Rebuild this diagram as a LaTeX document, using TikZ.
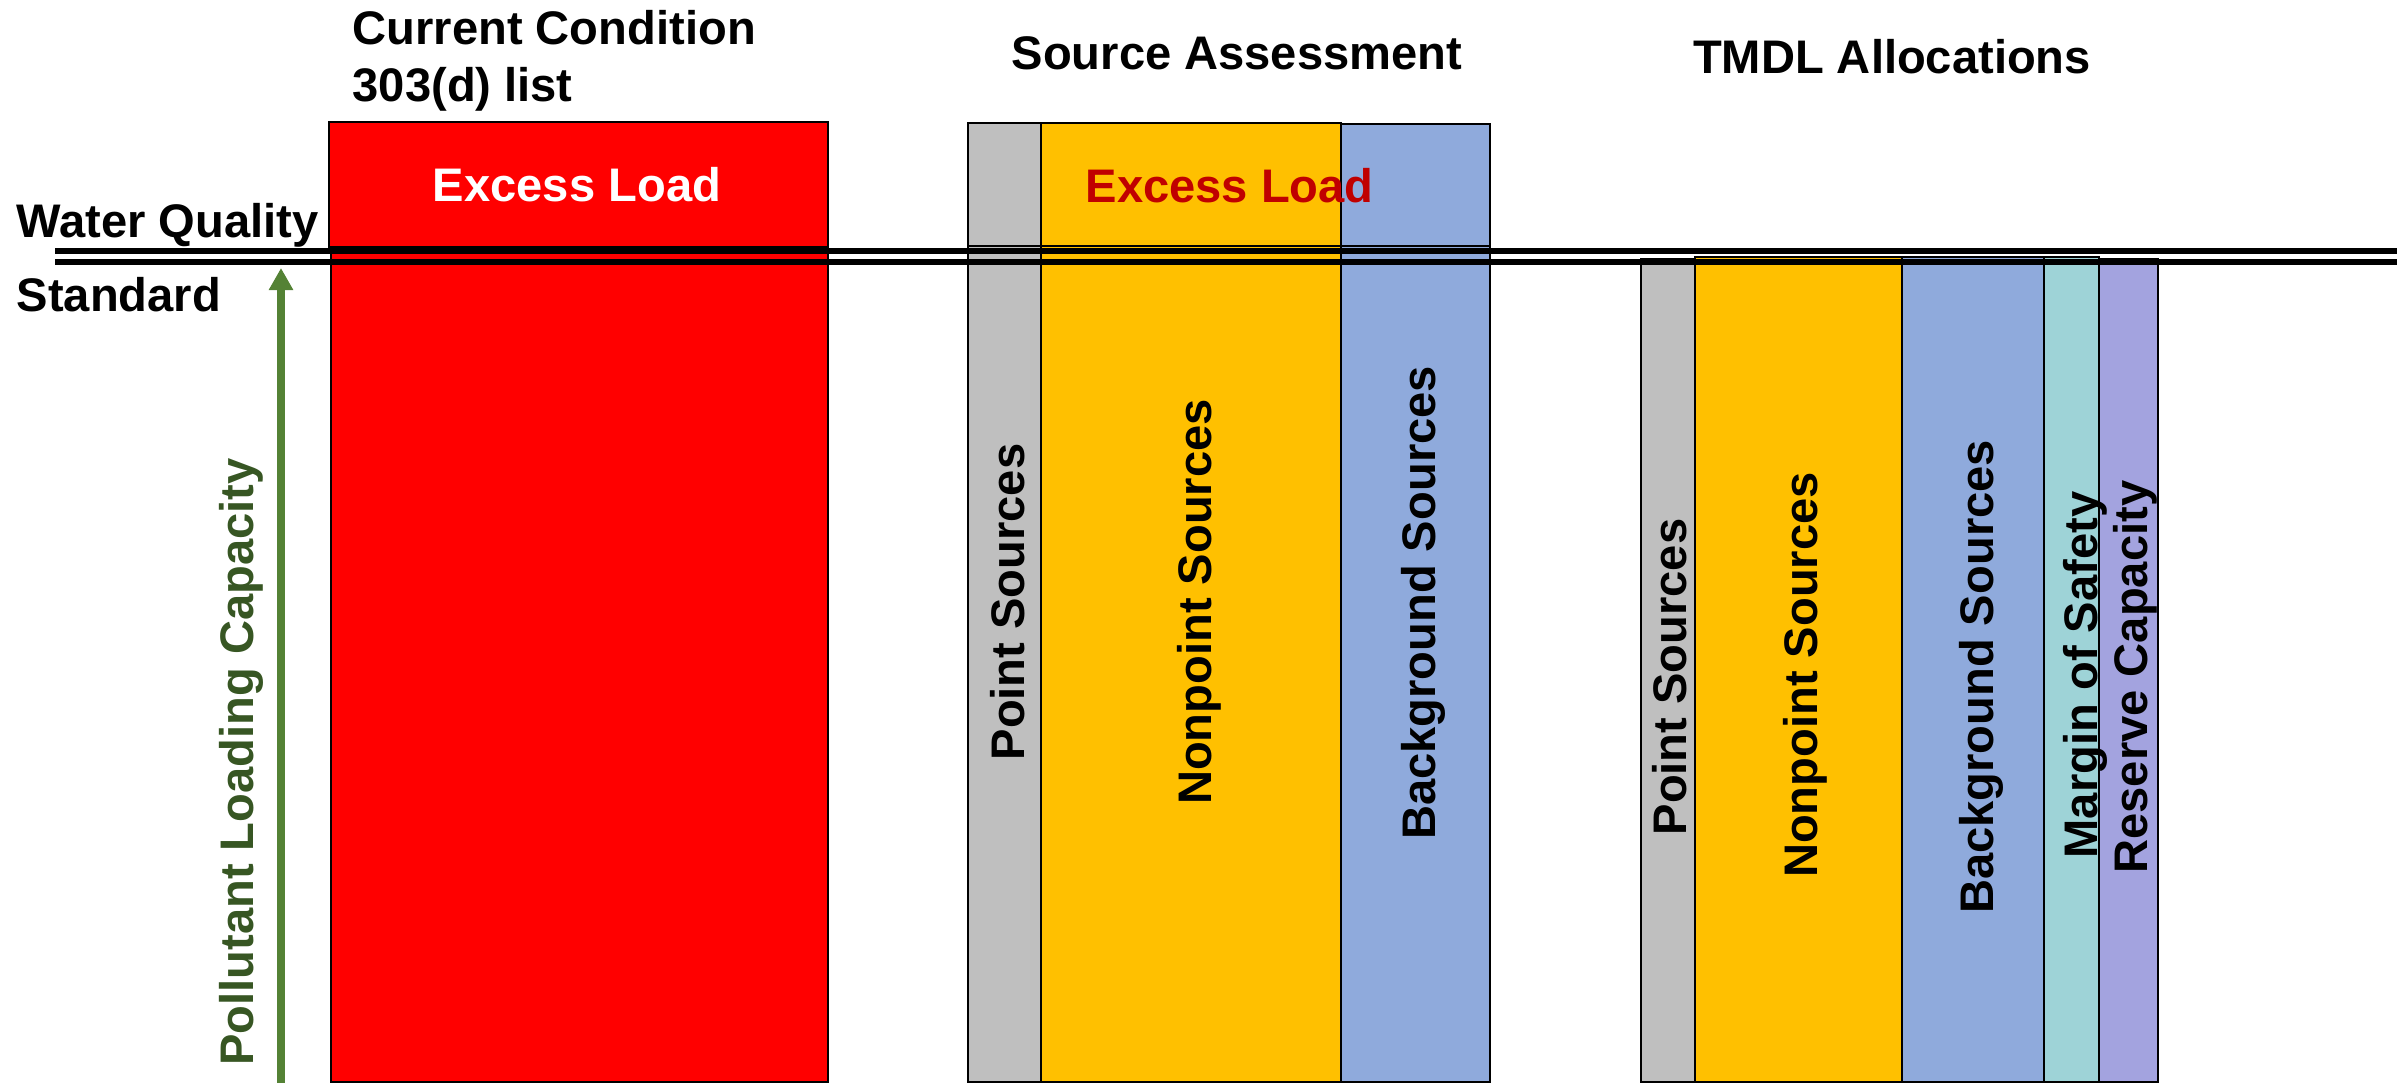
\documentclass[tikz,border=0pt]{standalone}
\usepackage{fontspec}
\setmainfont{Liberation Sans}
\usepackage{tikz}
\usetikzlibrary{arrows.meta}

\definecolor{pointgray}{HTML}{BFBFBF}
\definecolor{nonpointyellow}{HTML}{FFC000}
\definecolor{backblue}{HTML}{8FAADC}
\definecolor{safetyteal}{HTML}{9ED3D7}
\definecolor{reservepurple}{HTML}{A3A3DF}
\definecolor{excessred}{HTML}{C00000}
\definecolor{arrowgreen}{HTML}{548235}
\definecolor{labelgreen}{HTML}{375623}

\begin{document}
\begin{tikzpicture}[x=0.01cm, y=-0.01cm,
	box/.style={draw=black, line width=0.6pt},
	lbl/.style={font=\fontsize{13.4}{16}\selectfont\bfseries, inner sep=0pt},
	vlbl/.style={lbl, rotate=90, anchor=base}]

	\useasboundingbox (0,0) rectangle (2397,1083);

	% current condition
	\draw[box, fill=red] (329,122) rectangle (828,247);
	\draw[box, fill=red] (331,247) rectangle (828,1082);

	% source assessment
	\draw[box, fill=pointgray] (968,123) rectangle (1041,246);
	\draw[box, fill=nonpointyellow] (1041,123) rectangle (1341,246);
	\draw[box, fill=backblue] (1341,124) rectangle (1490,246);
	\draw[box, fill=pointgray] (968,246) rectangle (1041,1082);
	\draw[box, fill=nonpointyellow] (1041,246) rectangle (1341,1082);
	\draw[box, fill=backblue] (1341,246) rectangle (1490,1082);

	% tmdl allocations
	\draw[box, fill=pointgray] (1641,259) rectangle (1695,1082);
	\draw[box, fill=nonpointyellow] (1695,257) rectangle (1902,1082);
	\draw[box, fill=backblue] (1902,257) rectangle (2044,1082);
	\draw[box, fill=safetyteal] (2044,257) rectangle (2099,1082);
	\draw[box, fill=reservepurple] (2099,259) rectangle (2158,1082);

	% water quality standard
	\coordinate (wqa) at (55,251);
	\coordinate (wqb) at (2397,251);
	\coordinate (wqc) at (55,262);
	\coordinate (wqd) at (2397,262);
	\draw[line width=1.7pt] (wqa) -- (wqb);
	\draw[line width=1.7pt] (wqc) -- (wqd);

	% capacity arrow
	\coordinate (capfoot) at (281,1083);
	\coordinate (captip) at (281,268);
	\draw[arrowgreen, line width=2pt, -{Triangle[width=0.23cm, length=0.22cm]}] (capfoot) -- (captip);

	\node[lbl, anchor=base west] (cc) at (352,45) {Current Condition};
	\node[lbl, anchor=base west] (list) at (352,102) {303(d) list};
	\node[lbl, anchor=base] (sa) at (1237,70) {Source Assessment};
	\node[lbl, anchor=base] (tmdl) at (1892,74) {TMDL Allocations};

	\node[lbl, anchor=base west] (wq) at (16,238) {Water Quality};
	\node[lbl, anchor=base west] (std) at (16,312) {Standard};

	\node[lbl, anchor=base, white] (exa) at (577,202) {Excess Load};
	\node[lbl, anchor=base west, excessred] (exb) at (1085,203) {Excess Load};

	\node[vlbl, labelgreen] (plc) at (253,762) {Pollutant Loading Capacity};

	\node[vlbl] (sapt) at (1024,602) {Point Sources};
	\node[vlbl] (sanp) at (1211,602) {Nonpoint Sources};
	\node[vlbl] (sabg) at (1435,603) {Background Sources};

	\node[vlbl] (tmpt) at (1686,677) {Point Sources};
	\node[vlbl] (tmnp) at (1817,675) {Nonpoint Sources};
	\node[vlbl] (tmbg) at (1993,677) {Background Sources};
	\node[vlbl] (tmms) at (2097,675) {Margin of Safety};
	\node[vlbl] (tmrc) at (2147,677) {Reserve Capacity};

\end{tikzpicture}
\end{document}
